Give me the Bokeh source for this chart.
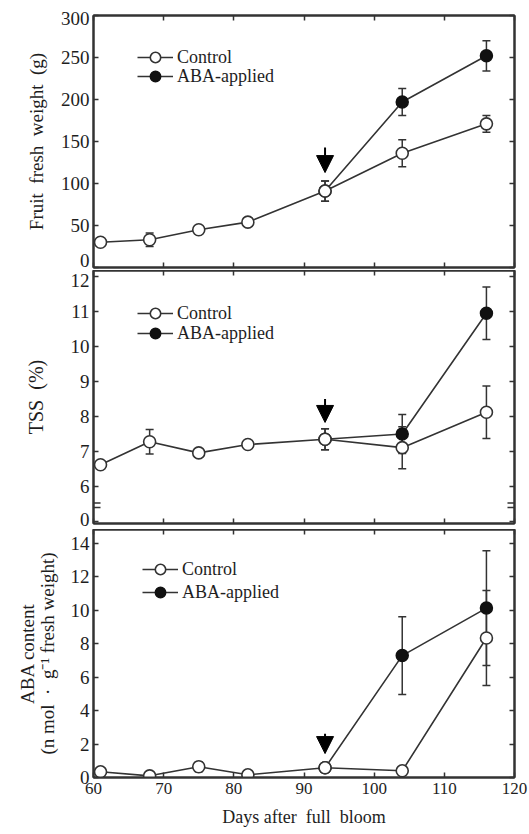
from bokeh.plotting import figure
from bokeh.models import (LinearAxis, FixedTicker, Whisker, ColumnDataSource, Legend,
                          LegendItem, Arrow, NormalHead, Range1d, TeeHead)
from bokeh.layouts import column
from bokeh.embed import file_html
from bokeh.resources import INLINE

# ---------------- data ----------------
days = [61, 68, 75, 82, 93, 104, 116]
aba_days = [93, 104, 116]
x_ticks = [60, 70, 80, 90, 100, 110, 120]

fw_control = [30, 33, 45, 54, 91, 136, 171]
fw_control_err = [2, 8, 3, 3, 12, 16, 10]
fw_aba = [91, 197, 252]
fw_aba_err = [12, 16, 18]
fw_ticks = [0, 50, 100, 150, 200, 250, 300]
fw_tick_labels = ["0", "50", "100", "150", "200", "250", "300"]

tss_control = [6.62, 7.28, 6.96, 7.20, 7.35, 7.11, 8.12]
tss_control_err = [0.05, 0.35, 0.04, 0.08, 0.30, 0.60, 0.75]
tss_aba = [7.35, 7.50, 10.95]
tss_aba_err = [0.30, 0.56, 0.75]
tss_ticks = [5, 6, 7, 8, 9, 10, 11, 12]
tss_tick_labels = ["0", "6", "7", "8", "9", "10", "11", "12"]

aba_control = [0.34, 0.10, 0.64, 0.16, 0.58, 0.40, 8.34]
aba_control_err = [0.05, 0.05, 0.30, 0.05, 0.10, 0.05, 2.84]
aba_aba = [0.58, 7.29, 10.13]
aba_aba_err = [0.10, 2.33, 3.43]
aba_ticks = [0, 2, 4, 6, 8, 10, 12, 14]
aba_tick_labels = ["0", "2", "4", "6", "8", "10", "12", "14"]

FONT = "Liberation Serif"
INK = "#1e1e1e"
LINE = "#333333"
W = 529
SP = " \u00a0"  # wide word gap, as in the original labels


def hidden_axis(ticks):
    return LinearAxis(ticker=FixedTicker(ticks=ticks), major_label_text_font_size="1px",
                      major_label_text_color=None, major_label_standoff=0,
                      major_tick_in=5, major_tick_out=0,
                      minor_tick_line_color=None, axis_line_color=LINE, axis_line_width=2,
                      major_tick_line_color=LINE, major_tick_line_width=1.5)


def panel(height, top, bottom, yr, frame_h, yticks, ylabels, nudges, ylabel, ystand, show_x,
          ctrl, ctrl_err, aba, aba_err, arrow_y, legend_y, legend_x=44, lh=1.2, tsize="19px"):
    p = figure(width=W, height=height, x_range=Range1d(60, 120), y_range=Range1d(*yr),
               output_backend="svg", toolbar_location=None,
               min_border_left=93, min_border_right=W - 514, min_border_top=top,
               min_border_bottom=bottom, x_axis_location=None, y_axis_location=None)
    p.xgrid.visible = False
    p.ygrid.visible = False
    p.outline_line_color = LINE
    p.outline_line_width = 2
    p.background_fill_color = "white"
    p.border_fill_color = "white"

    # tick marks on the left edge
    p.add_layout(hidden_axis(yticks), "left")
    # tick labels (edge labels nudged inward a few pixels, as in the original figure)
    upp = (yr[1] - yr[0]) / frame_h
    pos = [t + n * upp for t, n in zip(yticks, nudges)]
    left = LinearAxis(ticker=FixedTicker(ticks=pos), axis_label=ylabel,
                      major_label_overrides={q: l for q, l in zip(pos, ylabels)},
                      major_tick_in=0, major_tick_out=0, major_tick_line_color=None,
                      minor_tick_line_color=None, axis_line_color=None,
                      major_label_text_font=FONT, major_label_text_font_size="19px",
                      major_label_text_color=INK, major_label_standoff=4,
                      axis_label_text_font=FONT, axis_label_text_font_size=tsize,
                      axis_label_text_font_style="normal", axis_label_text_color=INK,
                      axis_label_text_line_height=lh, axis_label_standoff=ystand)
    p.add_layout(left, "left")
    p.add_layout(hidden_axis(yticks), "right")
    p.add_layout(hidden_axis(x_ticks), "above")
    if show_x:
        bx = LinearAxis(ticker=FixedTicker(ticks=x_ticks),
                        axis_label="Days after" + SP + "full" + SP + "bloom",
                        major_tick_in=5, major_tick_out=0, minor_tick_line_color=None,
                        axis_line_color=LINE, axis_line_width=2,
                        major_tick_line_color=LINE, major_tick_line_width=1.5,
                        major_label_text_font=FONT, major_label_text_font_size="17px",
                        major_label_text_color=INK, major_label_standoff=5,
                        axis_label_text_font=FONT, axis_label_text_font_size="18px",
                        axis_label_text_font_style="normal", axis_label_text_color=INK,
                        axis_label_standoff=10)
        p.add_layout(bx, "below")
    else:
        p.add_layout(hidden_axis(x_ticks), "below")

    cs = ColumnDataSource(dict(x=days, y=ctrl, lo=[v - e for v, e in zip(ctrl, ctrl_err)],
                               hi=[v + e for v, e in zip(ctrl, ctrl_err)]))
    as_ = ColumnDataSource(dict(x=aba_days, y=aba, lo=[v - e for v, e in zip(aba, aba_err)],
                                hi=[v + e for v, e in zip(aba, aba_err)]))

    la = p.line("x", "y", source=as_, line_color=LINE, line_width=1.6)
    lc = p.line("x", "y", source=cs, line_color=LINE, line_width=1.6)
    for src in (cs, as_):
        w = Whisker(source=src, base="x", lower="lo", upper="hi", line_color=LINE,
                    line_width=1.5,
                    upper_head=TeeHead(size=8, line_color=LINE, line_width=1.5),
                    lower_head=TeeHead(size=8, line_color=LINE, line_width=1.5))
        p.add_layout(w)
    ca = p.scatter("x", "y", source=as_, size=12, marker="circle", fill_color="#111111",
                   line_color="#111111", line_width=1.5)
    cc = p.scatter("x", "y", source=cs, size=12, marker="circle", fill_color="white",
                   line_color=LINE, line_width=1.6)
    # mark ABA application at day 93
    p.add_layout(Arrow(end=NormalHead(size=17, fill_color="#000000", line_color="#000000"),
                       x_start=93, y_start=arrow_y[0], x_end=93, y_end=arrow_y[1],
                       line_color="#000000", line_width=2))

    for label, rends, ly in (("Control", [lc, cc], legend_y[0]),
                             ("ABA-applied", [la, ca], legend_y[1])):
        leg = Legend(items=[LegendItem(label=label, renderers=rends)],
                     location=(legend_x, ly), padding=0, margin=0, border_line_color=None,
                     background_fill_alpha=0, glyph_width=36, glyph_height=26,
                     label_standoff=4, label_text_font=FONT,
                     label_text_font_size="18px", label_text_color=INK)
        p.add_layout(leg)
    return p


# top panel: frame y 15..267
p1 = panel(270, 15, 3, (0, 300), 252, fw_ticks, fw_tick_labels, [7, 0, 0, 0, 0, 0, -3],
           "Fruit" + SP + "fresh" + SP + "weight" + SP + "(g)", 11, False,
           fw_control, fw_control_err, fw_aba, fw_aba_err, (143, 113), (197, 178))

# middle panel: frame y 270..523 (broken axis: "0" then 6..12)
p2 = panel(259, 0, 6, (4.943, 12.171), 253, tss_ticks, tss_tick_labels,
           [2.5, 0, 0, 0, 0, 0, 0, -4], "TSS" + SP + "(%)", 21, False,
           tss_control, tss_control_err, tss_aba, tss_aba_err, (8.5, 7.83), (197, 177),
           tsize="20px")
# axis-break marks on the TSS panel
for xs, xe in ((59.0, 61.0), (119.0, 120.9)):
    for yb in (5.40, 5.53):
        p2.add_layout(Arrow(end=None, x_start=xs, x_end=xe, y_start=yb, y_end=yb,
                            line_color=LINE, line_width=1.5))

# bottom panel: frame y 529..778
p3 = panel(304, 0, 56, (0, 14.83), 249, aba_ticks, aba_tick_labels, [0] * 8,
           "ABA content\n(n mol" + SP + "·" + SP + "g⁻¹ fresh weight)", 10, True,
           aba_control, aba_control_err, aba_aba, aba_aba_err, (2.62, 1.43), (195, 172),
           legend_x=49, lh=0.95)

layout = column(p1, p2, p3)
open("out.html", "w").write(file_html(layout, INLINE))
